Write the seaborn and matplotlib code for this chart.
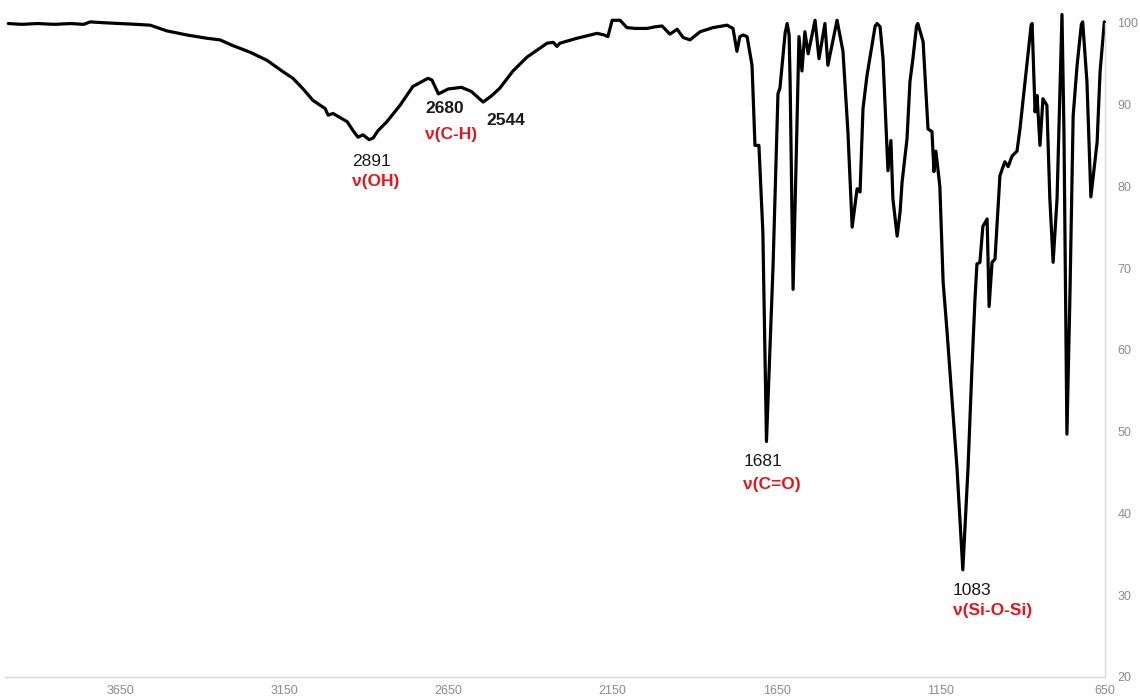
import matplotlib
matplotlib.use("Agg")
import matplotlib.pyplot as plt
import seaborn as sns
import pandas as pd

# FTIR spectrum: wavenumber (cm-1) and transmittance (%)
wavenumber = [
    3990, 3950, 3900, 3850, 3800, 3760, 3741, 3700, 3650, 3600, 3558,
    3507, 3446, 3385, 3345, 3306, 3254, 3202, 3153, 3123, 3092, 3062,
    3025, 3016, 3001, 2958, 2940, 2925, 2910, 2891, 2879, 2864, 2837,
    2797, 2758, 2712, 2700, 2680, 2650, 2610, 2580, 2544, 2520, 2493,
    2453, 2410, 2349, 2330, 2319, 2310, 2258, 2197, 2175, 2164, 2151,
    2127, 2106, 2080, 2045, 2020, 1999, 1975, 1953, 1935, 1914, 1883,
    1844, 1801, 1783, 1771, 1762, 1752, 1740, 1725, 1716, 1704, 1692,
    1681, 1661, 1646, 1640, 1624, 1618, 1612, 1609, 1600, 1591, 1582, 1573, 1564,
    1554, 1533, 1521, 1503, 1494, 1466, 1448, 1433, 1420, 1405, 1396,
    1387, 1375, 1350, 1344, 1335, 1326, 1311, 1302, 1296, 1283, 1274, 1268,
    1253, 1244, 1235, 1224, 1220, 1204, 1189, 1177, 1171, 1165, 1153, 1143,
    1131, 1116, 1101, 1083, 1067, 1055, 1046, 1040, 1031, 1022, 1009,
    1003, 994, 985, 970, 955, 945, 933, 918, 909, 888, 875, 872,
    863, 857, 848, 839, 827, 818, 808, 796, 781, 775, 766,
    757, 747, 735, 722, 718, 705, 693, 674, 665, 652,
]
transmittance = [
    99.9, 99.8, 99.9, 99.8, 99.9, 99.8, 100.1, 100.0, 99.9, 99.8, 99.7,
    99.0, 98.5, 98.1, 97.9, 97.2, 96.4, 95.4, 94.0, 93.2, 91.9, 90.5,
    89.5, 88.7, 88.9, 87.9, 86.8, 86.0, 86.3, 85.7, 85.9, 86.8, 87.9,
    89.9, 92.2, 93.2, 93.0, 91.3, 91.9, 92.1, 91.6, 90.3, 91.0, 92.0,
    94.1, 95.8, 97.5, 97.6, 97.1, 97.5, 98.1, 98.7, 98.5, 98.3, 100.3,
    100.3, 99.4, 99.3, 99.3, 99.5, 99.6, 98.6, 99.2, 98.2, 97.9, 98.9,
    99.4, 99.7, 99.3, 96.5, 98.3, 98.5, 98.3, 94.8, 85.0, 85.0, 74.4,
    48.8, 70.2, 91.3, 92.0, 98.8, 99.9, 98.5, 92.8, 67.4, 82.5, 98.3, 94.1, 98.9,
    96.2, 100.3, 95.6, 99.9, 94.8, 100.3, 96.5, 86.7, 75.0, 79.7, 79.3,
    89.5, 93.5, 99.6, 99.9, 99.5, 95.6, 81.9, 85.6, 78.5, 73.9, 76.9, 80.5,
    85.8, 92.8, 95.6, 99.6, 99.9, 97.7, 87.0, 86.7, 81.8, 84.3, 80.0, 68.3,
    62.2, 53.9, 45.7, 33.1, 45.7, 58.0, 66.2, 70.5, 70.7, 75.1, 76.0,
    65.3, 70.7, 71.1, 81.3, 83.0, 82.4, 83.7, 84.3, 87.0, 94.8, 99.7, 99.9,
    89.1, 91.1, 85.0, 90.7, 89.9, 78.5, 70.7, 78.5, 101.0, 86.7, 49.7,
    66.2, 88.6, 94.8, 99.8, 100.1, 92.8, 78.7, 85.4, 94.0, 100.1,
]

# Band annotations: value label, assignment label, anchor (cm-1, %T)
band_values = ["2891", "2680", "2544", "1681", "1083"]
band_value_bold = [False, True, True, False, False]
band_value_pos = [(2943, 84.0), (2721, 90.4), (2535, 88.9), (1752, 47.3), (1113, 31.5)]
assignments = ["ν(OH)", "ν(C-H)", "ν(C=O)", "ν(Si-O-Si)"]
assignment_pos = [(2943, 81.5), (2721, 87.3), (1752, 44.4), (1113, 29.1)]

x_ticks = [3650, 3150, 2650, 2150, 1650, 1150, 650]
y_ticks = [20, 30, 40, 50, 60, 70, 80, 90, 100]

sns.set_style("white")
plt.rcParams["font.family"] = ["Liberation Sans", "DejaVu Sans"]

fig = plt.figure(figsize=(11.4, 6.99), dpi=100)
ax = fig.add_axes([0.0044, 0.0315, 0.9649, 0.936])

df = pd.DataFrame({"wavenumber": wavenumber, "T": transmittance})
sns.lineplot(data=df, x="wavenumber", y="T", sort=False, color="black",
             linewidth=2.3, ax=ax, clip_on=False)
for line in ax.lines:
    line.set_solid_joinstyle("round")
    line.set_solid_capstyle("round")

ax.set_xlim(4000, 650)
ax.set_ylim(20, 100)
ax.set_xticks(x_ticks)
ax.set_yticks(y_ticks)
ax.set_xticklabels([str(v) for v in x_ticks])
ax.set_yticklabels([str(v) for v in y_ticks])
ax.set_xlabel("")
ax.set_ylabel("")

ax.yaxis.tick_right()
ax.tick_params(axis="both", length=0, labelsize=9, colors="#8c8c8c")
ax.tick_params(axis="x", pad=6)
ax.tick_params(axis="y", pad=9)

for side in ["left", "top"]:
    ax.spines[side].set_visible(False)
for side in ["bottom", "right"]:
    ax.spines[side].set_color("#d9d9d9")
    ax.spines[side].set_linewidth(1.0)

for label, bold, (x, y) in zip(band_values, band_value_bold, band_value_pos):
    ax.text(x, y, label, ha="left", va="top", fontsize=12.5,
            fontweight="bold" if bold else "normal", color="#1a1a1a")
for label, (x, y) in zip(assignments, assignment_pos):
    ax.text(x, y, label, ha="left", va="top", fontsize=12.5,
            fontweight="bold", color="#e8141c")

fig.savefig("out.png", dpi=100)
